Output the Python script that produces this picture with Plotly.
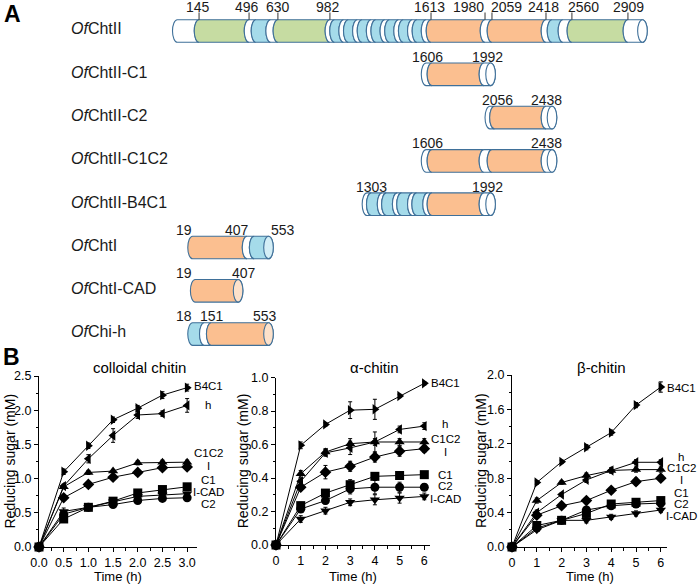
import plotly.graph_objects as go

W, H = 700, 584
FONT = "Arial, 'Liberation Sans', Helvetica, sans-serif"

# ======================= Panel A data (domain architecture) =======================
construct_names = ["<i>Of</i>ChtII", "<i>Of</i>ChtII-C1", "<i>Of</i>ChtII-C2",
                   "<i>Of</i>ChtII-C1C2", "<i>Of</i>ChtII-B4C1", "<i>Of</i>ChtI",
                   "<i>Of</i>ChtI-CAD", "<i>Of</i>Chi-h"]

# segment kinds: L linker, N green domain, C orange catalytic domain, B blue CBM
types_chtII = ["L", "N", "L", "B", "L", "N",
               "L", "B", "L", "B", "L", "B", "L", "B", "L", "B", "L", "B", "L", "B",
               "L", "C", "L", "C", "L", "B", "L", "N", "L"]
bounds_chtII = [0, 141, 465, 510, 605, 652, 989,
                1019, 1078, 1108, 1167, 1197, 1256, 1286, 1345, 1375, 1434, 1464, 1523, 1553, 1612,
                1644, 1994, 2039, 2389, 2428, 2499, 2557, 2920, 3014]
types_c1 = ["L", "C", "L"]
bounds_c1 = [1612, 1650, 1987, 2030]
types_c2 = ["L", "C", "L"]
bounds_c2 = [2025, 2055, 2389, 2428]
types_c1c2 = ["L", "C", "L", "C", "L"]
bounds_c1c2 = [1612, 1650, 1987, 2039, 2389, 2428]
types_b4c1 = ["L", "B", "L", "B", "L", "B", "L", "B", "L", "C", "L"]
bounds_b4c1 = [1229, 1257, 1327, 1355, 1425, 1453, 1523, 1551, 1622, 1650, 1987, 2030]
types_chtI = ["C", "L", "B"]
bounds_chtI = [99, 452, 498, 591]
types_cad = ["C"]
bounds_cad = [116, 394]
types_chih = ["B", "L", "C"]
bounds_chih = [99, 175, 220, 591]

# residue-number labels
labels_chtII = ["145", "496", "630", "982", "1613", "1980", "2059", "2418", "2560", "2909"]
labelpos_chtII = [135, 451, 652, 976, 1631, 1890, 2136, 2375, 2634, 2926]
tickpos_chtII = [141, 465, 652, 989, 1644, 1994, 2039, 2389, 2557, 2920]
labels_c1 = ["1606", "1992"];        labelpos_c1 = [1618, 2007]
labels_c2 = ["2056", "2438"];        labelpos_c2 = [2072, 2395]
labels_c1c2 = ["1606", "2438"];      labelpos_c1c2 = [1618, 2395]
labels_b4c1 = ["1303", "1992"];      labelpos_b4c1 = [1256, 2013]
labels_chtI = ["19", "407", "553"];  labelpos_chtI = [43, 390, 688]
labels_cad = ["19", "407"];          labelpos_cad = [43, 430]
labels_chih = ["18", "151", "553"];  labelpos_chih = [43, 225, 568]

# ======================= Panel B data (hydrolysis time courses) =======================
series_names = ["B4C1", "h", "C1C2", "I", "C1", "I-CAD", "C2"]

time_col = [0, 0.5, 1.0, 1.5, 2.0, 2.5, 3.0]
col_B4C1 = [0, 1.10, 1.48, 1.86, 2.03, 2.22, 2.33]
col_h = [0, 0.89, 1.29, 1.63, 1.93, 1.95, 2.07]
col_C1C2 = [0, 0.88, 1.09, 1.11, 1.23, 1.24, 1.24]
col_I = [0, 0.72, 0.915, 1.02, 1.09, 1.16, 1.17]
col_C1 = [0, 0.41, 0.58, 0.67, 0.79, 0.84, 0.88]
col_ICAD = [0, 0.52, 0.58, 0.66, 0.74, 0.76, 0.78]
col_C2 = [0, 0.48, 0.58, 0.62, 0.68, 0.71, 0.72]
colerr_B4C1 = [0, 0.04, 0.04, 0.04, 0.04, 0.05, 0.05]
colerr_h = [0, 0.03, 0.06, 0.10, 0.05, 0.04, 0.10]
colerr_C1C2 = [0, 0.03, 0.03, 0.02, 0.03, 0.03, 0.03]
colerr_I = [0, 0.03, 0.03, 0.04, 0.04, 0.03, 0.02]
colerr_C1 = [0, 0.03, 0.02, 0.03, 0.03, 0.03, 0.04]
colerr_ICAD = [0, 0.05, 0.02, 0.03, 0.03, 0.02, 0.02]
colerr_C2 = [0, 0.03, 0.02, 0.02, 0.02, 0.02, 0.02]
col_label_y = [2.35, 2.075, 1.37, 1.185, 0.975, 0.81, 0.635]

time_ab = [0, 1, 2, 3, 4, 5, 6]
alp_B4C1 = [0, 0.595, 0.72, 0.805, 0.81, 0.89, 0.965]
alp_h = [0, 0.38, 0.55, 0.58, 0.615, 0.69, 0.71]
alp_C1C2 = [0, 0.425, 0.555, 0.605, 0.615, 0.615, 0.615]
alp_I = [0, 0.345, 0.435, 0.47, 0.525, 0.56, 0.575]
alp_C1 = [0, 0.235, 0.31, 0.36, 0.41, 0.415, 0.42]
alp_ICAD = [0, 0.155, 0.205, 0.255, 0.27, 0.28, 0.29]
alp_C2 = [0, 0.215, 0.265, 0.335, 0.345, 0.345, 0.345]
alperr_B4C1 = [0, 0.02, 0.01, 0.05, 0.06, 0.01, 0.01]
alperr_h = [0, 0.02, 0.02, 0.04, 0.06, 0.02, 0.02]
alperr_C1C2 = [0, 0.02, 0.02, 0.03, 0.02, 0.02, 0.02]
alperr_I = [0, 0.02, 0.04, 0.03, 0.03, 0.03, 0.02]
alperr_C1 = [0, 0.02, 0.02, 0.03, 0.02, 0.01, 0.01]
alperr_ICAD = [0, 0.02, 0.02, 0.02, 0.03, 0.03, 0.02]
alperr_C2 = [0, 0.02, 0.02, 0.03, 0.04, 0.03, 0.02]
alp_label_y = [0.965, 0.72, 0.63, 0.555, 0.42, 0.275, 0.35]

bet_B4C1 = [0, 0.75, 0.99, 1.16, 1.33, 1.65, 1.86]
bet_h = [0, 0.40, 0.61, 0.78, 0.89, 0.985, 0.985]
bet_C1C2 = [0, 0.54, 0.75, 0.83, 0.89, 0.90, 0.90]
bet_I = [0, 0.37, 0.48, 0.54, 0.66, 0.76, 0.80]
bet_C1 = [0, 0.25, 0.31, 0.39, 0.50, 0.52, 0.54]
bet_ICAD = [0, 0.20, 0.31, 0.31, 0.35, 0.39, 0.43]
bet_C2 = [0, 0.22, 0.31, 0.43, 0.48, 0.50, 0.51]
beterr_B4C1 = [0, 0.02, 0.02, 0.03, 0.03, 0.03, 0.06]
beterr_h = [0, 0.03, 0.02, 0.03, 0.03, 0.03, 0.03]
beterr_C1C2 = [0, 0.03, 0.02, 0.03, 0.03, 0.03, 0.03]
beterr_I = [0, 0.02, 0.03, 0.02, 0.03, 0.04, 0.03]
beterr_C1 = [0, 0.02, 0.02, 0.03, 0.03, 0.03, 0.03]
beterr_ICAD = [0, 0.02, 0.03, 0.03, 0.03, 0.03, 0.03]
beterr_C2 = [0, 0.02, 0.02, 0.03, 0.03, 0.03, 0.03]
bet_label_y = [1.85, 1.05, 0.92, 0.78, 0.63, 0.355, 0.50]

substrate_titles = ["colloidal chitin", "\u03b1-chitin", "\u03b2-chitin"]

# ======================= styling =======================
symbols = ["triangle-right", "triangle-left", "triangle-up", "diamond",
           "square", "triangle-down", "circle"]
fills = {"L": "#ffffff", "N": "#c6dca2", "C": "#fbbf90", "B": "#a5dbea"}
cap_colors = ["#ffffff"] * 5 + ["#d4eef6", "#fde1ca", "#fde1ca"]
OUTLINE = "#3f7099"

# panel A geometry (pixel mapping of the hidden residue axis)
PX0, PX_PER_RES = 177.3, 0.15433
ROW0_PX, ROW_STEP = 31.0, 43.3
HALF_H = 11.3 / ROW_STEP
ARC_W = 4.8 / PX_PER_RES

fig = go.Figure()

rows = [(types_chtII, bounds_chtII), (types_c1, bounds_c1), (types_c2, bounds_c2),
        (types_c1c2, bounds_c1c2), (types_b4c1, bounds_b4c1), (types_chtI, bounds_chtI),
        (types_cad, bounds_cad), (types_chih, bounds_chih)]
row_labels = [(labels_chtII, labelpos_chtII), (labels_c1, labelpos_c1), (labels_c2, labelpos_c2),
              (labels_c1c2, labelpos_c1c2), (labels_b4c1, labelpos_b4c1), (labels_chtI, labelpos_chtI),
              (labels_cad, labelpos_cad), (labels_chih, labelpos_chih)]

K = 0.5523


def seg_path(a, b, yc, h, w, last):
    top, bot = yc - h, yc + h
    p = (f"M{a},{top} C{a-K*w},{top} {a-w},{yc-K*h} {a-w},{yc} "
         f"C{a-w},{yc+K*h} {a-K*w},{bot} {a},{bot} L{b},{bot} ")
    s = 1 if last else -1
    p += (f"C{b+s*K*w},{bot} {b+s*w},{yc+K*h} {b+s*w},{yc} "
          f"C{b+s*w},{yc-K*h} {b+s*K*w},{top} {b},{top} Z")
    return p


shapes = []
annotations = []
for i, (types, bounds) in enumerate(rows):
    yc = i
    n = len(types)
    for j, t in enumerate(types):
        shapes.append(dict(type="path", xref="x4", yref="y4",
                           path=seg_path(bounds[j], bounds[j + 1], yc, HALF_H, ARC_W, j == n - 1),
                           fillcolor=fills[t], line=dict(color=OUTLINE, width=1.1)))
    b = bounds[-1]
    shapes.append(dict(type="circle", xref="x4", yref="y4", x0=b - ARC_W, x1=b + ARC_W,
                       y0=yc - HALF_H, y1=yc + HALF_H, fillcolor=cap_colors[i],
                       line=dict(color=OUTLINE, width=1.1)))
    annotations.append(dict(x=69 / W, xref="paper", y=yc - 0.05, yref="y4", text=construct_names[i],
                            showarrow=False, xanchor="left", yanchor="middle",
                            font=dict(size=16, family=FONT, color="#1a1a1a")))
    texts, poss = row_labels[i]
    ly = yc + (-24.0 / ROW_STEP if i == 0 else -17.7 / ROW_STEP)
    for txt, pos in zip(texts, poss):
        annotations.append(dict(x=pos, xref="x4", y=ly, yref="y4", text=txt, showarrow=False,
                                xanchor="center", yanchor="middle",
                                font=dict(size=14, family=FONT, color="#1a1a1a")))

for tp in tickpos_chtII:
    shapes.append(dict(type="line", xref="x4", yref="y4", x0=tp, x1=tp,
                       y0=(12.5 - ROW0_PX) / ROW_STEP, y1=-HALF_H,
                       line=dict(color="#333333", width=1)))

# ======================= Panel B =======================
groups = [
    ("x", "y", time_col,
     [col_B4C1, col_h, col_C1C2, col_I, col_C1, col_ICAD, col_C2],
     [colerr_B4C1, colerr_h, colerr_C1C2, colerr_I, colerr_C1, colerr_ICAD, colerr_C2],
     col_label_y),
    ("x2", "y2", time_ab,
     [alp_B4C1, alp_h, alp_C1C2, alp_I, alp_C1, alp_ICAD, alp_C2],
     [alperr_B4C1, alperr_h, alperr_C1C2, alperr_I, alperr_C1, alperr_ICAD, alperr_C2],
     alp_label_y),
    ("x3", "y3", time_ab,
     [bet_B4C1, bet_h, bet_C1C2, bet_I, bet_C1, bet_ICAD, bet_C2],
     [beterr_B4C1, beterr_h, beterr_C1C2, beterr_I, beterr_C1, beterr_ICAD, beterr_C2],
     bet_label_y),
]

# axis geometry in pixels (left, right, top, bottom)
boxes = [(39, 197, 376, 547), (276, 430, 377.5, 545), (512, 667, 375, 547)]
xranges = [[0, 3.2], [0, 6.23], [0, 6.25]]
yranges = [[0, 2.5], [0, 1.0], [0, 2.0]]
xdt = [(0.5, 0.25, ".1f"), (1, 0.5, "d"), (1, 0.5, "d")]
ydt = [(0.5, 0.25), (0.2, 0.1), (0.4, 0.2)]
title_cx = [139, 374, 601]
ytitle_cx = [9, 243, 481]
serieslabel_cx = [208, 445, 681]

for gi, (xa, ya, tx, ys, errs, laby) in enumerate(groups):
    l, r, t, b = boxes[gi]
    y0, y1 = yranges[gi]
    for k, name in enumerate(series_names):
        fig.add_trace(go.Scatter(
            x=tx, y=ys[k], mode="lines+markers", xaxis=xa, yaxis=ya, showlegend=False,
            name=name, cliponaxis=False,
            line=dict(color="black", width=1),
            marker=dict(symbol=symbols[k], size=9, color="black", line=dict(width=0)),
            error_y=dict(type="data", array=errs[k], color="black", thickness=1, width=2)))
        py = b - (laby[k] - y0) / (y1 - y0) * (b - t)
        annotations.append(dict(x=serieslabel_cx[gi] / W, xref="paper", y=1 - py / H, yref="paper",
                                text=name, showarrow=False, xanchor="center", yanchor="middle",
                                font=dict(size=11.5, family=FONT, color="black")))

axis_common = dict(showline=True, linecolor="black", linewidth=1, ticks="outside", ticklen=4,
                   tickwidth=1, tickcolor="black", showgrid=False, zeroline=False,
                   automargin=False,
                   tickfont=dict(size=12.5, family=FONT, color="black"), tick0=0)

layout_axes = {}
for i in range(3):
    l, r, t, b = boxes[i]
    sx = "" if i == 0 else str(i + 1)
    layout_axes["xaxis" + sx] = dict(
        axis_common, domain=[l / W, r / W], range=xranges[i], anchor="y" + sx,
        dtick=xdt[i][0], tickformat=xdt[i][2],
        minor=dict(dtick=xdt[i][1], ticks="outside", ticklen=2.5, tickwidth=1,
                   tickcolor="black", showgrid=False))
    layout_axes["yaxis" + sx] = dict(
        axis_common, domain=[1 - b / H, 1 - t / H], range=yranges[i], anchor="x" + sx,
        dtick=ydt[i][0], tickformat=".1f",
        minor=dict(dtick=ydt[i][1], ticks="outside", ticklen=2.5, tickwidth=1,
                   tickcolor="black", showgrid=False))
    annotations.append(dict(x=title_cx[i] / W, y=1 - 367 / H, xref="paper", yref="paper",
                            text=substrate_titles[i], showarrow=False, xanchor="center",
                            yanchor="middle", font=dict(size=15, family=FONT, color="black")))
    annotations.append(dict(x=(l + r) / 2 / W, y=1 - 576 / H, xref="paper", yref="paper",
                            text="Time (h)", showarrow=False, xanchor="center", yanchor="middle",
                            font=dict(size=13, family=FONT, color="black")))
    annotations.append(dict(x=ytitle_cx[i] / W, y=1 - (t + b) / 2 / H, xref="paper", yref="paper",
                            text="Reducing sugar (mM)", showarrow=False, textangle=-90,
                            xanchor="center", yanchor="middle",
                            font=dict(size=14, family=FONT, color="black")))

# hidden axes for panel A (residue scale horizontally, construct rows vertically)
layout_axes["xaxis4"] = dict(domain=[0, 1], anchor="y4", visible=False, fixedrange=True,
                             automargin=False,
                             range=[(0 - PX0) / PX_PER_RES, (W - PX0) / PX_PER_RES])
layout_axes["yaxis4"] = dict(domain=[0, 1], anchor="x4", visible=False, fixedrange=True,
                             automargin=False,
                             range=[(H - ROW0_PX) / ROW_STEP, (0 - ROW0_PX) / ROW_STEP])

# panel letters
annotations.append(dict(x=2 / W, y=1 - 14 / H, xref="paper", yref="paper", text="<b>A</b>",
                        showarrow=False, xanchor="left", yanchor="middle",
                        font=dict(size=23, family=FONT, color="black")))
annotations.append(dict(x=1 / W, y=1 - 357 / H, xref="paper", yref="paper", text="<b>B</b>",
                        showarrow=False, xanchor="left", yanchor="middle",
                        font=dict(size=23, family=FONT, color="black")))

fig.update_layout(width=W, height=H, autosize=False, margin=dict(l=0, r=0, t=0, b=0, pad=0),
                  paper_bgcolor="white", plot_bgcolor="rgba(0,0,0,0)", shapes=shapes,
                  annotations=annotations, **layout_axes)

fig.write_html("out.html", config={"displayModeBar": False},
               post_script="document.body.style.margin='0px';")
